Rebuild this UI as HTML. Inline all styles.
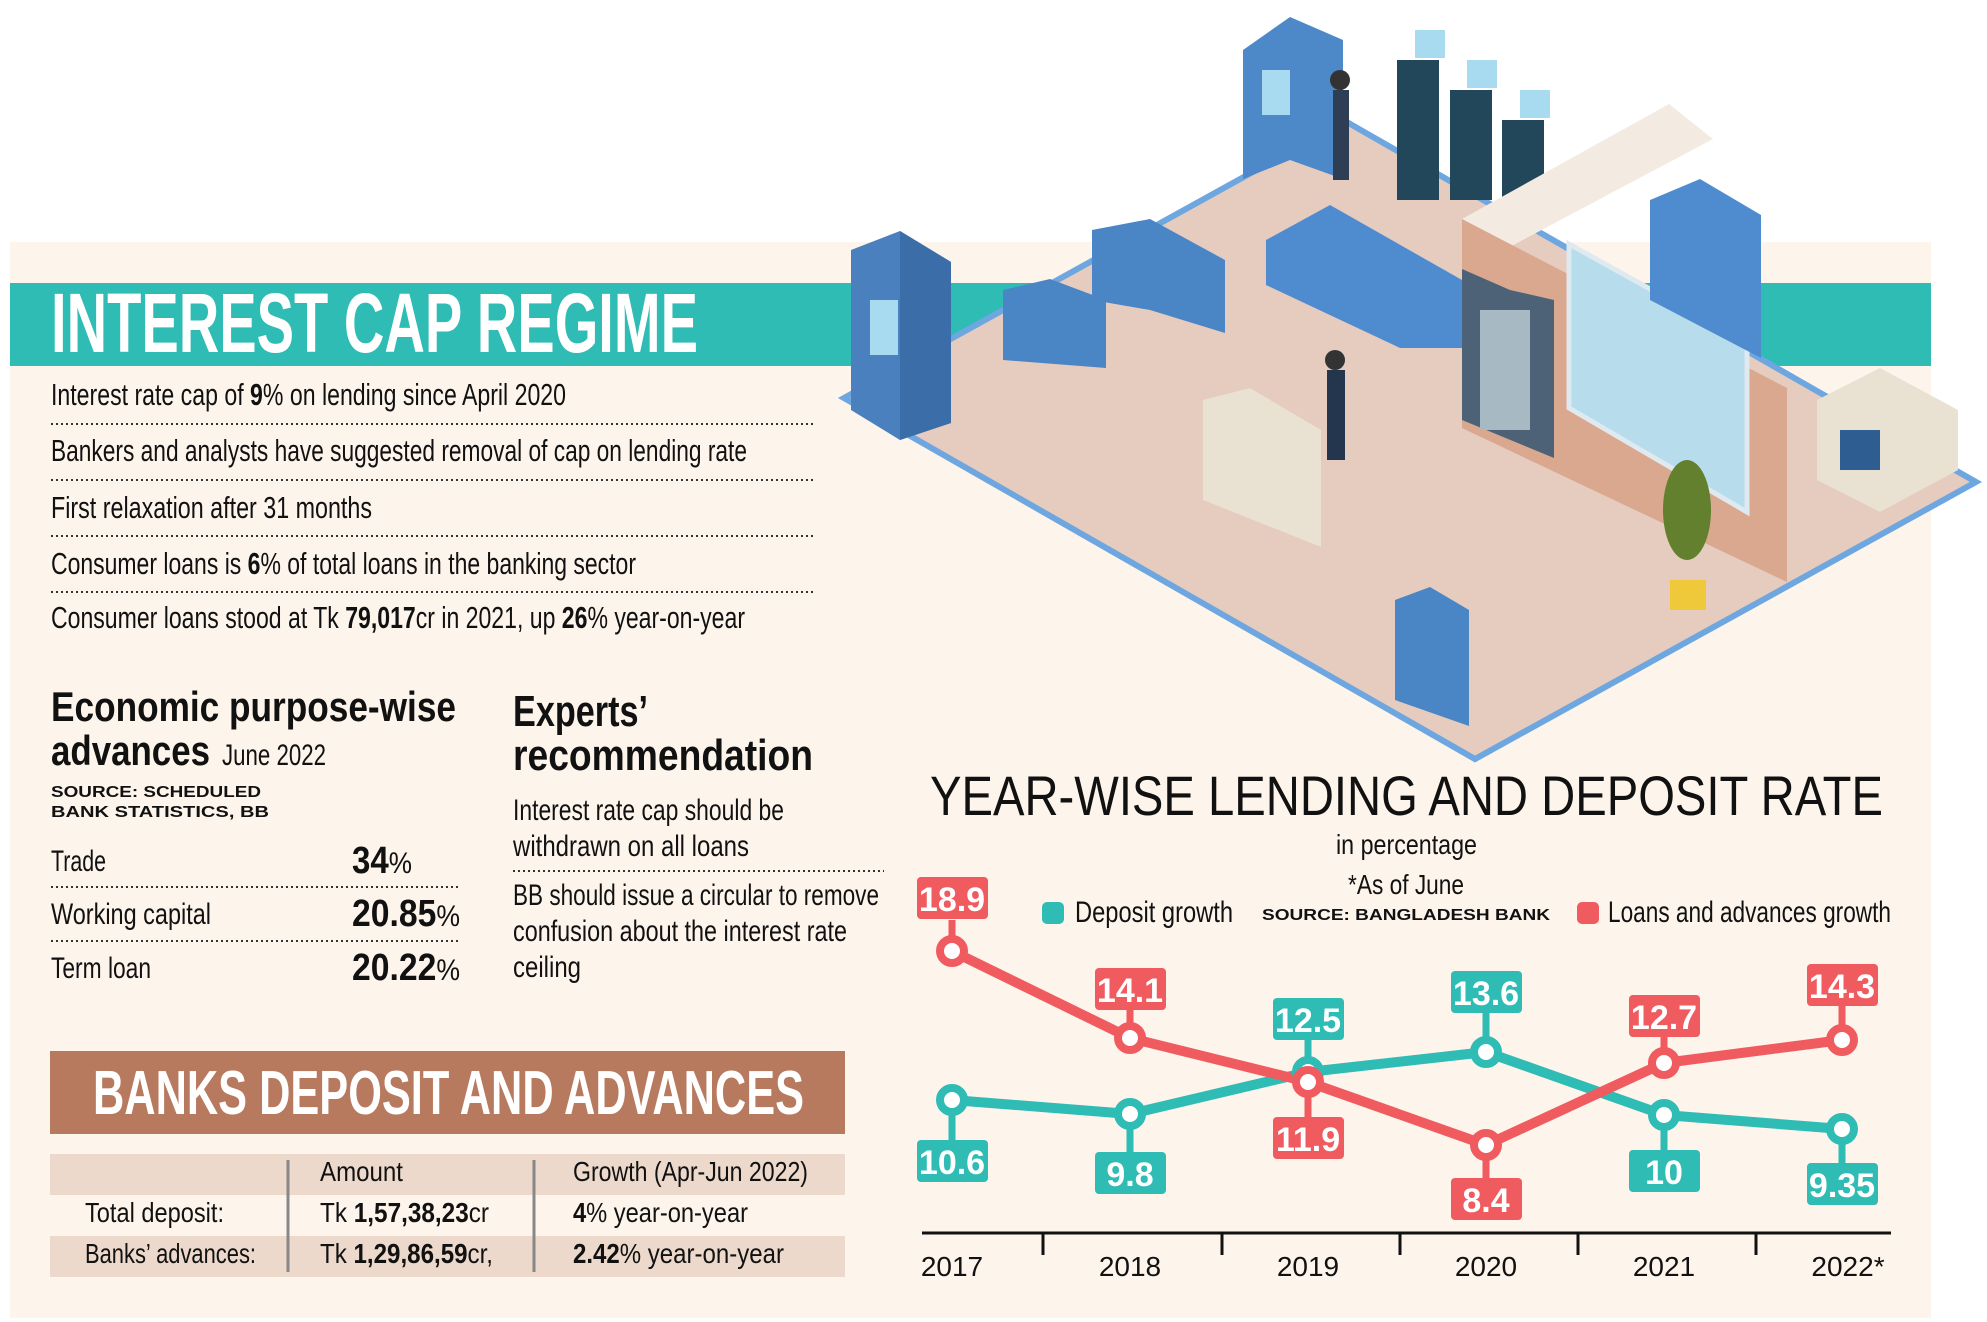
<!DOCTYPE html>
<html><head><meta charset="utf-8"><style>
html,body{margin:0;padding:0;background:#fff;}
svg{display:block;}
text{font-family:"Liberation Sans",sans-serif;}
</style></head><body>
<svg width="1987" height="1322" viewBox="0 0 1987 1322" xmlns="http://www.w3.org/2000/svg">
<rect x="0" y="0" width="1987" height="1322" fill="#ffffff"/>
<rect x="10" y="242" width="1921" height="1076" fill="#fdf4ec"/>
<rect x="10" y="283" width="1921" height="83" fill="#2ebcb4"/>
<text x="51" y="352" font-size="84" font-weight="bold" fill="#fff" textLength="647" lengthAdjust="spacingAndGlyphs">INTEREST CAP REGIME</text>

<g font-size="31" fill="#111">
<text x="51" y="405" textLength="515" lengthAdjust="spacingAndGlyphs">Interest rate cap of <tspan font-weight="bold">9</tspan>% on lending since April 2020</text>
<text x="51" y="461" textLength="696" lengthAdjust="spacingAndGlyphs">Bankers and analysts have suggested removal of cap on lending rate</text>
<text x="51" y="518" textLength="321" lengthAdjust="spacingAndGlyphs">First relaxation after 31 months</text>
<text x="51" y="574" textLength="585" lengthAdjust="spacingAndGlyphs">Consumer loans is <tspan font-weight="bold">6</tspan>% of total loans in the banking sector</text>
<text x="51" y="628" textLength="694" lengthAdjust="spacingAndGlyphs">Consumer loans stood at Tk <tspan font-weight="bold">79,017</tspan>cr in 2021, up <tspan font-weight="bold">26</tspan>% year-on-year</text>
</g>
<g stroke="#333" stroke-width="2" stroke-dasharray="2,3">
<line x1="51" y1="424" x2="813" y2="424"/><line x1="51" y1="480" x2="813" y2="480"/>
<line x1="51" y1="536" x2="813" y2="536"/><line x1="51" y1="592" x2="813" y2="592"/>
<line x1="51" y1="887" x2="461" y2="887"/><line x1="51" y1="941" x2="461" y2="941"/>
<line x1="513" y1="871" x2="884" y2="871"/>
</g>

<text x="51" y="721" font-size="42" font-weight="bold" fill="#111" textLength="405" lengthAdjust="spacingAndGlyphs">Economic purpose-wise</text>
<text x="51" y="765" font-size="42" font-weight="bold" fill="#111" textLength="159" lengthAdjust="spacingAndGlyphs">advances</text>
<text x="222" y="765" font-size="30" fill="#111" textLength="104" lengthAdjust="spacingAndGlyphs">June 2022</text>
<text x="51" y="797" font-size="16" font-weight="bold" fill="#111" textLength="210" lengthAdjust="spacingAndGlyphs">SOURCE: SCHEDULED</text>
<text x="51" y="817" font-size="16" font-weight="bold" fill="#111" textLength="218" lengthAdjust="spacingAndGlyphs">BANK STATISTICS, BB</text>
<g font-size="30" fill="#111">
<text x="51" y="871" textLength="55" lengthAdjust="spacingAndGlyphs">Trade</text>
<text x="51" y="924" textLength="160" lengthAdjust="spacingAndGlyphs">Working capital</text>
<text x="51" y="978" textLength="100" lengthAdjust="spacingAndGlyphs">Term loan</text>
<text x="352" y="873" textLength="60" lengthAdjust="spacingAndGlyphs"><tspan font-size="38" font-weight="bold">34</tspan>%</text>
<text x="352" y="926" textLength="108" lengthAdjust="spacingAndGlyphs"><tspan font-size="38" font-weight="bold">20.85</tspan>%</text>
<text x="352" y="980" textLength="108" lengthAdjust="spacingAndGlyphs"><tspan font-size="38" font-weight="bold">20.22</tspan>%</text>
</g>

<text x="513" y="726" font-size="44" font-weight="bold" fill="#111" textLength="135" lengthAdjust="spacingAndGlyphs">Experts’</text>
<text x="513" y="770" font-size="44" font-weight="bold" fill="#111" textLength="300" lengthAdjust="spacingAndGlyphs">recommendation</text>
<g font-size="30" fill="#111">
<text x="513" y="820" textLength="271" lengthAdjust="spacingAndGlyphs">Interest rate cap should be</text>
<text x="513" y="856" textLength="236" lengthAdjust="spacingAndGlyphs">withdrawn on all loans</text>
<text x="513" y="905" textLength="366" lengthAdjust="spacingAndGlyphs">BB should issue a circular to remove</text>
<text x="513" y="941" textLength="334" lengthAdjust="spacingAndGlyphs">confusion about the interest rate</text>
<text x="513" y="977" textLength="68" lengthAdjust="spacingAndGlyphs">ceiling</text>
</g>

<rect x="50" y="1051" width="795" height="83" fill="#b87a5f"/>
<text x="93" y="1114" font-size="62" font-weight="bold" fill="#fff" textLength="711" lengthAdjust="spacingAndGlyphs">BANKS DEPOSIT AND ADVANCES</text>
<rect x="50" y="1154" width="795" height="41" fill="#ecd9cb"/>
<rect x="50" y="1236" width="795" height="41" fill="#ecd9cb"/>
<line x1="288" y1="1160" x2="288" y2="1272" stroke="#888" stroke-width="3"/>
<line x1="534" y1="1160" x2="534" y2="1272" stroke="#888" stroke-width="3"/>
<g font-size="28" fill="#111">
<text x="320" y="1181" textLength="83" lengthAdjust="spacingAndGlyphs">Amount</text>
<text x="573" y="1181" textLength="235" lengthAdjust="spacingAndGlyphs">Growth (Apr-Jun 2022)</text>
<text x="85" y="1222" textLength="139" lengthAdjust="spacingAndGlyphs">Total deposit:</text>
<text x="85" y="1263" textLength="171" lengthAdjust="spacingAndGlyphs">Banks’ advances:</text>
<text x="320" y="1222" textLength="169" lengthAdjust="spacingAndGlyphs">Tk <tspan font-weight="bold">1,57,38,23</tspan>cr</text>
<text x="320" y="1263" textLength="173" lengthAdjust="spacingAndGlyphs">Tk <tspan font-weight="bold">1,29,86,59</tspan>cr,</text>
<text x="573" y="1222" textLength="175" lengthAdjust="spacingAndGlyphs"><tspan font-weight="bold">4</tspan>% year-on-year</text>
<text x="573" y="1263" textLength="211" lengthAdjust="spacingAndGlyphs"><tspan font-weight="bold">2.42</tspan>% year-on-year</text>
</g>

<!-- Illustration -->
<polygon points="844,398 1345,121 1976,482 1475,759" fill="#e6cbbf" stroke="#6ea7e0" stroke-width="6"/>
<polygon points="851,250 900,231 951,262 951,423 900,440 851,410" fill="#4a80bd"/>
<polygon points="900,231 951,262 951,423 900,440" fill="#3b6ea8"/>
<rect x="870" y="300" width="28" height="55" fill="#a8daf0"/>
<polygon points="1243,50 1290,17 1343,40 1343,179 1290,160 1243,179" fill="#4d88c8"/>
<rect x="1262" y="70" width="28" height="45" fill="#a8daf0"/>
<g fill="#22475a">
<rect x="1397" y="60" width="42" height="140"/><rect x="1450" y="90" width="42" height="110"/><rect x="1502" y="120" width="42" height="80"/>
</g>
<g fill="#a8daf0"><rect x="1415" y="30" width="30" height="28"/><rect x="1467" y="60" width="30" height="28"/><rect x="1520" y="90" width="30" height="28"/></g>
<polygon points="1266,240 1330,205 1462,280 1462,348 1400,348 1266,285" fill="#4f8ccf"/>
<polygon points="1092,230 1150,219 1225,260 1225,333 1150,310 1092,300" fill="#4a85c6"/>
<polygon points="1003,290 1050,279 1106,300 1106,368 1003,360" fill="#4a85c6"/>
<polygon points="1462,219 1669,104 1713,139 1506,249" fill="#f3ebe2"/>
<polygon points="1462,219 1787,388 1787,582 1462,428" fill="#d9a88e"/>
<polygon points="1569,244 1747,343 1747,512 1569,408" fill="#b7dcec" stroke="#dfe9f0" stroke-width="5"/>
<polygon points="1650,200 1700,179 1761,215 1761,358 1650,300" fill="#4f8ccf"/>
<polygon points="1462,269 1510,290 1554,300 1554,458 1462,420" fill="#4d6277"/>
<rect x="1480" y="310" width="50" height="120" fill="#a7bac4"/>
<polygon points="1203,400 1250,388 1321,430 1321,547 1203,500" fill="#e9e1d2"/>
<polygon points="1395,600 1430,587 1469,610 1469,726 1395,700" fill="#4a85c6"/>
<polygon points="1817,400 1880,368 1958,410 1958,470 1880,512 1817,480" fill="#e9e1d2"/>
<rect x="1840" y="430" width="40" height="40" fill="#2e5d92"/>
<ellipse cx="1687" cy="510" rx="24" ry="50" fill="#62802e"/>
<rect x="1670" y="580" width="36" height="30" fill="#f0c93a"/>
<circle cx="1340" cy="80" r="10" fill="#333"/><rect x="1333" y="90" width="16" height="90" fill="#2d3e55"/>
<circle cx="1335" cy="360" r="10" fill="#333"/><rect x="1327" y="370" width="18" height="90" fill="#24364d"/>

<!-- Chart -->
<text x="930" y="815" font-size="56" fill="#111" textLength="953" lengthAdjust="spacingAndGlyphs">YEAR-WISE LENDING AND DEPOSIT RATE</text>
<text x="1336" y="854" font-size="28" fill="#111" textLength="141" lengthAdjust="spacingAndGlyphs">in percentage</text>
<text x="1348" y="894" font-size="28" fill="#111" textLength="116" lengthAdjust="spacingAndGlyphs">*As of June</text>
<rect x="1042" y="902" width="22" height="22" rx="5" fill="#2ebcb4"/>
<text x="1075" y="922" font-size="30" fill="#111" textLength="158" lengthAdjust="spacingAndGlyphs">Deposit growth</text>
<text x="1262" y="920" font-size="16" font-weight="bold" fill="#111" textLength="288" lengthAdjust="spacingAndGlyphs">SOURCE: BANGLADESH BANK</text>
<rect x="1577" y="902" width="22" height="22" rx="5" fill="#ef5b5f"/>
<text x="1608" y="922" font-size="30" fill="#111" textLength="283" lengthAdjust="spacingAndGlyphs">Loans and advances growth</text>

<line x1="922" y1="1233" x2="1891" y2="1233" stroke="#111" stroke-width="3"/>
<g stroke="#111" stroke-width="3">
<line x1="1043" y1="1233" x2="1043" y2="1255"/><line x1="1222" y1="1233" x2="1222" y2="1255"/>
<line x1="1400" y1="1233" x2="1400" y2="1255"/><line x1="1578" y1="1233" x2="1578" y2="1255"/>
<line x1="1756" y1="1233" x2="1756" y2="1255"/>
</g>
<g font-size="28" fill="#111" text-anchor="middle">
<text x="952" y="1276">2017</text><text x="1130" y="1276">2018</text><text x="1308" y="1276">2019</text>
<text x="1486" y="1276">2020</text><text x="1664" y="1276">2021</text><text x="1848" y="1276">2022*</text>
</g>

<g stroke-width="7">
<line x1="952" y1="920" x2="952" y2="951" stroke="#ef5b5f"/>
<line x1="1130" y1="1010" x2="1130" y2="1038" stroke="#ef5b5f"/>
<line x1="1308" y1="1082" x2="1308" y2="1117" stroke="#ef5b5f"/>
<line x1="1486" y1="1145" x2="1486" y2="1178" stroke="#ef5b5f"/>
<line x1="1664" y1="1063" x2="1664" y2="1037" stroke="#ef5b5f"/>
<line x1="1842" y1="1040" x2="1842" y2="1006" stroke="#ef5b5f"/>
<line x1="952" y1="1100" x2="952" y2="1140" stroke="#2ebcb4"/>
<line x1="1130" y1="1114" x2="1130" y2="1152" stroke="#2ebcb4"/>
<line x1="1308" y1="1072" x2="1308" y2="1040" stroke="#2ebcb4"/>
<line x1="1486" y1="1052" x2="1486" y2="1013" stroke="#2ebcb4"/>
<line x1="1664" y1="1115" x2="1664" y2="1150" stroke="#2ebcb4"/>
<line x1="1842" y1="1129" x2="1842" y2="1163" stroke="#2ebcb4"/>
</g>
<polyline points="952,1100 1130,1114 1308,1072 1486,1052 1664,1115 1842,1129" fill="none" stroke="#2ebcb4" stroke-width="10" stroke-linejoin="round"/>
<polyline points="952,951 1130,1038 1308,1082 1486,1145 1664,1063 1842,1040" fill="none" stroke="#ef5b5f" stroke-width="10" stroke-linejoin="round"/>
<g fill="#fff" stroke-width="8">
<circle cx="952" cy="1100" r="12" stroke="#2ebcb4"/><circle cx="1130" cy="1114" r="12" stroke="#2ebcb4"/>
<circle cx="1308" cy="1072" r="12" stroke="#2ebcb4"/><circle cx="1486" cy="1052" r="12" stroke="#2ebcb4"/>
<circle cx="1664" cy="1115" r="12" stroke="#2ebcb4"/><circle cx="1842" cy="1129" r="12" stroke="#2ebcb4"/>
<circle cx="952" cy="951" r="12" stroke="#ef5b5f"/><circle cx="1130" cy="1038" r="12" stroke="#ef5b5f"/>
<circle cx="1308" cy="1082" r="12" stroke="#ef5b5f"/><circle cx="1486" cy="1145" r="12" stroke="#ef5b5f"/>
<circle cx="1664" cy="1063" r="12" stroke="#ef5b5f"/><circle cx="1842" cy="1040" r="12" stroke="#ef5b5f"/>
</g>
<g fill="#ef5b5f">
<rect x="917" y="877" width="71" height="42" rx="4"/>
<rect x="1095" y="968" width="71" height="42" rx="4"/>
<rect x="1273" y="1117" width="71" height="42" rx="4"/>
<rect x="1451" y="1178" width="71" height="42" rx="4"/>
<rect x="1629" y="995" width="71" height="42" rx="4"/>
<rect x="1807" y="964" width="71" height="42" rx="4"/>
</g>
<g fill="#2ebcb4">
<rect x="917" y="1140" width="71" height="42" rx="4"/>
<rect x="1095" y="1152" width="71" height="42" rx="4"/>
<rect x="1273" y="998" width="71" height="42" rx="4"/>
<rect x="1451" y="971" width="71" height="42" rx="4"/>
<rect x="1629" y="1150" width="71" height="42" rx="4"/>
<rect x="1807" y="1163" width="71" height="42" rx="4"/>
</g>
<g font-size="34" font-weight="bold" fill="#fff" text-anchor="middle">
<text x="952" y="911">18.9</text><text x="1130" y="1002">14.1</text><text x="1308" y="1151">11.9</text>
<text x="1486" y="1212">8.4</text><text x="1664" y="1029">12.7</text><text x="1842" y="998">14.3</text>
<text x="952" y="1174">10.6</text><text x="1130" y="1186">9.8</text><text x="1308" y="1032">12.5</text>
<text x="1486" y="1005">13.6</text><text x="1664" y="1184">10</text><text x="1842" y="1197">9.35</text>
</g>
</svg>
</body></html>
